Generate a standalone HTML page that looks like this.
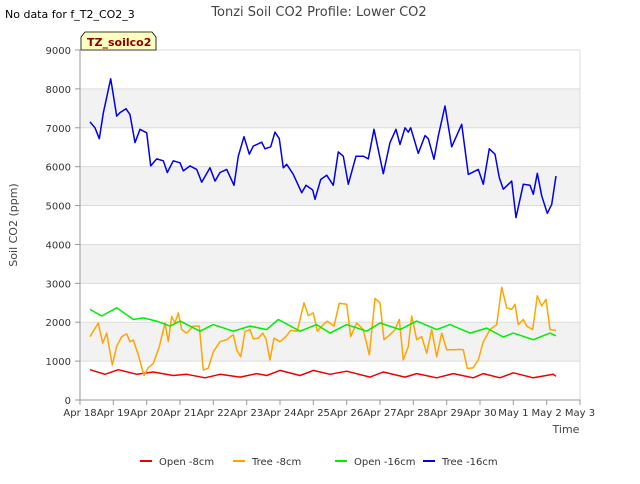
<!DOCTYPE html>
<html><head><meta charset="utf-8"><style>
body{margin:0;background:#fff;font-family:"DejaVu Sans","Liberation Sans",sans-serif}
svg text{font-family:"DejaVu Sans","Liberation Sans",sans-serif}
</style></head><body>
<svg id="chart" width="640" height="480" xmlns="http://www.w3.org/2000/svg">
<rect width="640" height="480" fill="#fff"/>
<g id="grid"></g>
<g id="series"></g>
<g id="axes"></g>
<text x="5" y="18" font-size="11" fill="#000">No data for f_T2_CO2_3</text>
<text x="319" y="16" font-size="13" fill="#444" text-anchor="middle">Tonzi Soil CO2 Profile: Lower CO2</text>
<g>
<path d="M81,50 L81,37 L85,32 L152,32 L156,37 L156,50 Z" fill="#ffffc0" stroke="#000" stroke-width="0.8"/>
<text x="87" y="46" font-size="11" font-weight="bold" fill="#8b0000">TZ_soilco2</text>
</g>
<text x="17" y="225" font-size="11" fill="#444" text-anchor="middle" transform="rotate(-90 17 225)">Soil CO2 (ppm)</text>
<text x="566" y="433" font-size="11" fill="#444" text-anchor="middle">Time</text>
<g id="legend"></g>
</svg>
<script>
const xTicks=["Apr 18","Apr 19","Apr 20","Apr 21","Apr 22","Apr 23","Apr 24","Apr 25","Apr 26","Apr 27","Apr 28","Apr 29","Apr 30","May 1","May 2","May 3"];
const yTicks=[0,1000,2000,3000,4000,5000,6000,7000,8000,9000];
const seriesNames=["Open -8cm","Tree -8cm","Open -16cm","Tree -16cm"];
const seriesColors=["#ee0000","#ffa500","#00ee00","#0000ee"];
const redDays=[0.3,0.75,1.15,1.7,2.2,2.8,3.2,3.75,4.2,4.8,5.3,5.6,6.0,6.6,7.0,7.5,8.0,8.7,9.1,9.75,10.1,10.7,11.2,11.8,12.1,12.6,13.0,13.6,14.2,14.28];
const redVals=[780,660,780,660,720,630,660,570,660,590,680,630,760,630,760,660,740,590,720,590,680,570,680,570,680,570,700,570,660,610];
const orangeDays=[0.3,0.55,0.68,0.8,0.97,1.1,1.25,1.4,1.5,1.6,1.75,1.92,2.05,2.2,2.38,2.55,2.65,2.75,2.85,2.95,3.05,3.2,3.4,3.58,3.7,3.85,4.0,4.2,4.4,4.6,4.7,4.82,4.95,5.1,5.2,5.35,5.48,5.58,5.7,5.82,6.0,6.18,6.32,6.52,6.72,6.85,7.0,7.12,7.3,7.42,7.62,7.78,8.0,8.12,8.3,8.5,8.68,8.85,9.0,9.12,9.3,9.45,9.58,9.7,9.85,9.95,10.1,10.25,10.4,10.55,10.7,10.85,11.0,11.2,11.4,11.5,11.62,11.8,11.95,12.1,12.3,12.5,12.65,12.8,12.95,13.05,13.15,13.3,13.4,13.58,13.72,13.85,13.98,14.1,14.28];
const orangeVals=[1630,1980,1460,1720,900,1380,1630,1700,1500,1540,1160,630,830,940,1370,1980,1500,2150,1980,2240,1810,1720,1900,1900,770,820,1240,1500,1550,1680,1290,1110,1760,1810,1570,1590,1720,1570,1030,1590,1500,1630,1790,1770,2500,2170,2240,1770,1940,2030,1900,2490,2460,1630,1980,1810,1160,2610,2500,1550,1680,1810,2070,1030,1370,2160,1550,1630,1200,1810,1110,1720,1290,1290,1300,1290,810,830,1030,1500,1810,1940,2900,2370,2330,2460,1940,2070,1900,1810,2680,2420,2590,1810,1790];
const greenDays=[0.3,0.65,1.1,1.6,1.9,2.3,2.7,3.0,3.6,4.0,4.6,5.1,5.6,5.95,6.6,7.1,7.5,8.0,8.6,9.0,9.6,10.1,10.7,11.1,11.7,12.2,12.7,13.0,13.6,14.1,14.28];
const greenVals=[2330,2160,2370,2070,2110,2030,1900,2030,1770,1940,1770,1900,1810,2070,1770,1940,1720,1940,1770,1980,1810,2030,1810,1940,1720,1850,1620,1720,1550,1720,1650];
const blueDays=[0.3,0.45,0.58,0.7,0.92,1.1,1.2,1.38,1.5,1.65,1.8,2.0,2.12,2.3,2.5,2.62,2.8,3.0,3.1,3.3,3.5,3.65,3.9,4.05,4.2,4.4,4.62,4.75,4.92,5.08,5.2,5.45,5.55,5.72,5.85,5.98,6.1,6.2,6.4,6.65,6.78,6.98,7.05,7.22,7.4,7.6,7.75,7.9,8.05,8.28,8.5,8.65,8.82,9.1,9.3,9.48,9.6,9.75,9.85,9.92,10.15,10.35,10.45,10.62,10.75,10.95,11.15,11.3,11.45,11.65,11.95,12.1,12.28,12.45,12.58,12.7,12.95,13.08,13.3,13.5,13.6,13.72,13.85,14.02,14.15,14.28];
const blueVals=[7150,7000,6720,7380,8260,7300,7390,7490,7340,6620,6960,6870,6020,6200,6150,5850,6150,6100,5890,6020,5930,5600,5970,5630,5850,5930,5520,6270,6770,6320,6530,6630,6460,6510,6890,6720,5970,6060,5800,5330,5520,5400,5160,5670,5780,5520,6380,6270,5550,6270,6270,6200,6960,5820,6620,6960,6570,7000,6890,7000,6340,6800,6720,6190,6790,7560,6510,6800,7090,5800,5930,5550,6460,6320,5720,5420,5630,4690,5550,5520,5290,5830,5250,4800,5030,5760];
const L=80,R=580,T=50,B=400,NS="http://www.w3.org/2000/svg";
const xs=d=>L+d*(R-L)/15, ys=v=>B-v*(B-T)/9000;
function mk(tag,attrs,parent){const e=document.createElementNS(NS,tag);for(const k in attrs)e.setAttribute(k,attrs[k]);parent.appendChild(e);return e;}
const grid=document.getElementById('grid'),axes=document.getElementById('axes'),ser=document.getElementById('series'),leg=document.getElementById('legend');
for(let i=0;i<yTicks.length-1;i++){ if(i%2===1){const r=mk('rect',{x:L,y:ys(yTicks[i+1]),width:R-L,height:ys(yTicks[i])-ys(yTicks[i+1]),fill:'#f2f2f2'},grid);

}}
yTicks.forEach(v=>{const l=mk('line',{x1:L,x2:R,y1:ys(v),y2:ys(v),stroke:'#dcdcdc','stroke-width':1},grid);


const t=mk('text',{x:L-9,y:ys(v)+4,'font-size':10,'text-anchor':'end',fill:'#333'},axes);t.textContent=v;


mk('line',{x1:L-5,x2:L,y1:ys(v),y2:ys(v),stroke:'#999'},axes);});
mk('line',{x1:R,x2:R,y1:T,y2:B,stroke:'#dcdcdc'},grid);
mk('line',{x1:L,x2:L,y1:T,y2:B,stroke:'#999'},axes);
mk('line',{x1:L,x2:R,y1:B,y2:B,stroke:'#999'},axes);
xTicks.forEach((s,i)=>{mk('line',{x1:xs(i),x2:xs(i),y1:B,y2:B+5,stroke:'#999'},axes);
const t=mk('text',{x:xs(i),y:B+16,'font-size':10,'text-anchor':'middle',fill:'#333'},axes);t.textContent=s;

});
const data=[[redDays,redVals],[orangeDays,orangeVals],[greenDays,greenVals],[blueDays,blueVals]];
const keys=['open-8cm','tree-8cm','open-16cm','tree-16cm'];
data.forEach(([d,v],k)=>{const p=d.map((x,i)=>(i?'L':'M')+xs(x).toFixed(1)+','+ys(v[i]).toFixed(1)).join(' ');
const e=mk('path',{d:p,fill:'none',stroke:seriesColors[k],'stroke-width':1.5,'stroke-linejoin':'round'},ser);

});
const lx=[140,233,335,423];
seriesNames.forEach((n,k)=>{const g=mk('g',{},leg);


mk('line',{x1:lx[k],x2:lx[k]+12,y1:461,y2:461,stroke:seriesColors[k],'stroke-width':2},g);
const t=mk('text',{x:lx[k]+19,y:465,'font-size':10,fill:'#333'},g);t.textContent=n;});
</script>
</body></html>
